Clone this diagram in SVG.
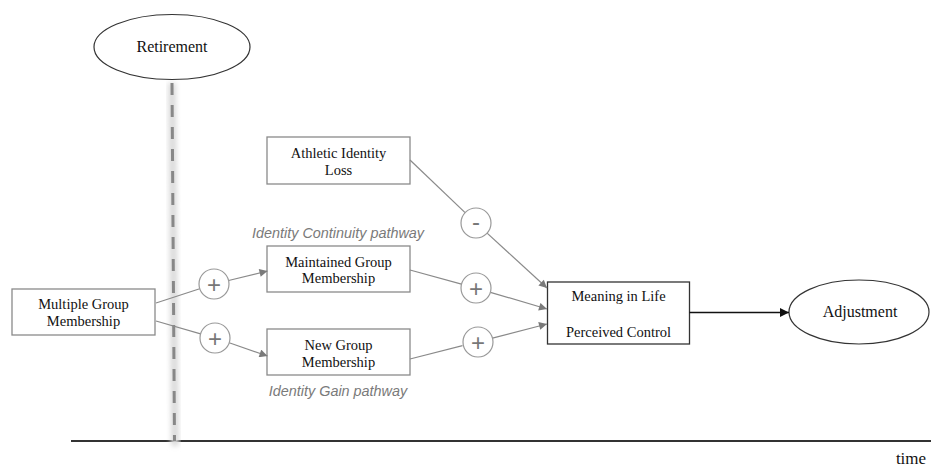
<svg xmlns="http://www.w3.org/2000/svg" width="931" height="468" viewBox="0 0 931 468">
<defs>
<style>
.box{fill:#fff;stroke:#8a8a8a;stroke-width:1.3}
.boxd{fill:#fff;stroke:#333;stroke-width:1.3}
.ell{fill:#fff;stroke:#333;stroke-width:1.2}
.lbl{font-family:"Liberation Serif","Times New Roman",serif;font-size:14.5px;fill:#111;text-anchor:middle}
.big{font-family:"Liberation Serif","Times New Roman",serif;font-size:16px;fill:#111;text-anchor:middle}
.path{font-family:"Liberation Sans",Arial,sans-serif;font-size:14.4px;font-style:italic;fill:#7a7a7a;text-anchor:middle}
.sgn{fill:#fff;stroke:#999;stroke-width:1.2}
.sgt{font-family:"Liberation Sans",Arial,sans-serif;font-size:24px;fill:#777;text-anchor:middle}
.con{stroke:#8a8a8a;stroke-width:1.2;fill:none}
</style>
<marker id="ag" viewBox="0 0 10 10" refX="10" refY="5" markerWidth="9" markerHeight="8" markerUnits="userSpaceOnUse" orient="auto"><path d="M0,0 L10,5 L0,10 z" fill="#7a7a7a"/></marker>
<marker id="ab" viewBox="0 0 10 10" refX="10" refY="5" markerWidth="10" markerHeight="9" markerUnits="userSpaceOnUse" orient="auto"><path d="M0,0 L10,5 L0,10 z" fill="#111"/></marker>
<filter id="blur" x="-2" y="-0.1" width="5" height="1.2"><feGaussianBlur stdDeviation="2.5"/></filter>
</defs>
<g id="timeline">
<line x1="71" y1="441" x2="931" y2="441" stroke="#333" stroke-width="2"/>
<text x="911" y="464" class="big" style="font-size:17px">time</text>
</g>
<g id="retirement-line">
<line x1="172" y1="83" x2="175" y2="446" stroke="#dcdcdc" stroke-width="8" filter="url(#blur)"/>
<line x1="172" y1="83" x2="174.5" y2="441" stroke="#888" stroke-width="3" stroke-dasharray="12 10"/>
</g>
<g id="retirement"><ellipse cx="172" cy="47" rx="78" ry="32.5" class="ell"/><text x="172" y="52" class="big">Retirement</text></g>
<g id="athletic"><rect x="267" y="137" width="143" height="47" class="box"/><text x="338.5" y="158" class="lbl">Athletic Identity</text><text x="338.5" y="175" class="lbl">Loss</text></g>
<g id="continuity-label"><text x="338" y="238" class="path">Identity Continuity pathway</text></g>
<g id="maintained"><rect x="267" y="246" width="143" height="46" class="box"/><text x="338.5" y="266.5" class="lbl">Maintained Group</text><text x="338.5" y="283" class="lbl">Membership</text></g>
<g id="new"><rect x="267" y="329" width="143" height="46" class="box"/><text x="338.5" y="350" class="lbl">New Group</text><text x="338.5" y="367" class="lbl">Membership</text></g>
<g id="gain-label"><text x="338" y="396" class="path">Identity Gain pathway</text></g>
<g id="multiple"><rect x="12" y="289" width="143" height="46" class="box"/><text x="83.5" y="309" class="lbl">Multiple Group</text><text x="83.5" y="325.5" class="lbl">Membership</text></g>
<g id="meaning"><rect x="547.5" y="282" width="142" height="62" class="boxd"/><text x="618.5" y="301" class="lbl">Meaning in Life</text><text x="618.5" y="337" class="lbl">Perceived Control</text></g>
<g id="adjustment"><ellipse cx="859" cy="312" rx="70" ry="32" class="ell"/><text x="860" y="317" class="big">Adjustment</text></g>
<g id="connectors">
<line x1="156" y1="303" x2="199.7" y2="288.7" class="con"/>
<line x1="228.6" y1="280.5" x2="267.5" y2="271" class="con" marker-end="url(#ag)"/>
<line x1="156" y1="321" x2="200.6" y2="333.8" class="con"/>
<line x1="229.2" y1="342.8" x2="267.5" y2="356" class="con" marker-end="url(#ag)"/>
<line x1="410" y1="160" x2="465.1" y2="212.6" class="con"/>
<line x1="487.1" y1="233.1" x2="547" y2="288" class="con" marker-end="url(#ag)"/>
<line x1="410" y1="270" x2="461.5" y2="284.1" class="con"/>
<line x1="490.4" y1="292.3" x2="547" y2="309" class="con" marker-end="url(#ag)"/>
<line x1="410" y1="359" x2="462.5" y2="345.7" class="con"/>
<line x1="491.5" y1="338.3" x2="547" y2="324" class="con" marker-end="url(#ag)"/>
<line x1="689.5" y1="312.5" x2="789" y2="312.5" stroke="#111" stroke-width="1.3" marker-end="url(#ab)"/>
</g>
<g id="sign-plus-1"><circle cx="214" cy="284" r="15" class="sgn"/><text x="214" y="292.5" class="sgt">+</text></g>
<g id="sign-plus-2"><circle cx="215" cy="338" r="15" class="sgn"/><text x="215" y="346.5" class="sgt">+</text></g>
<g id="sign-minus"><circle cx="476" cy="223" r="15" class="sgn"/><text x="476" y="230" class="sgt">-</text></g>
<g id="sign-plus-3"><circle cx="476" cy="288" r="15" class="sgn"/><text x="476" y="296.5" class="sgt">+</text></g>
<g id="sign-plus-4"><circle cx="478" cy="342" r="15" class="sgn"/><text x="478" y="350.5" class="sgt">+</text></g>
</svg>
